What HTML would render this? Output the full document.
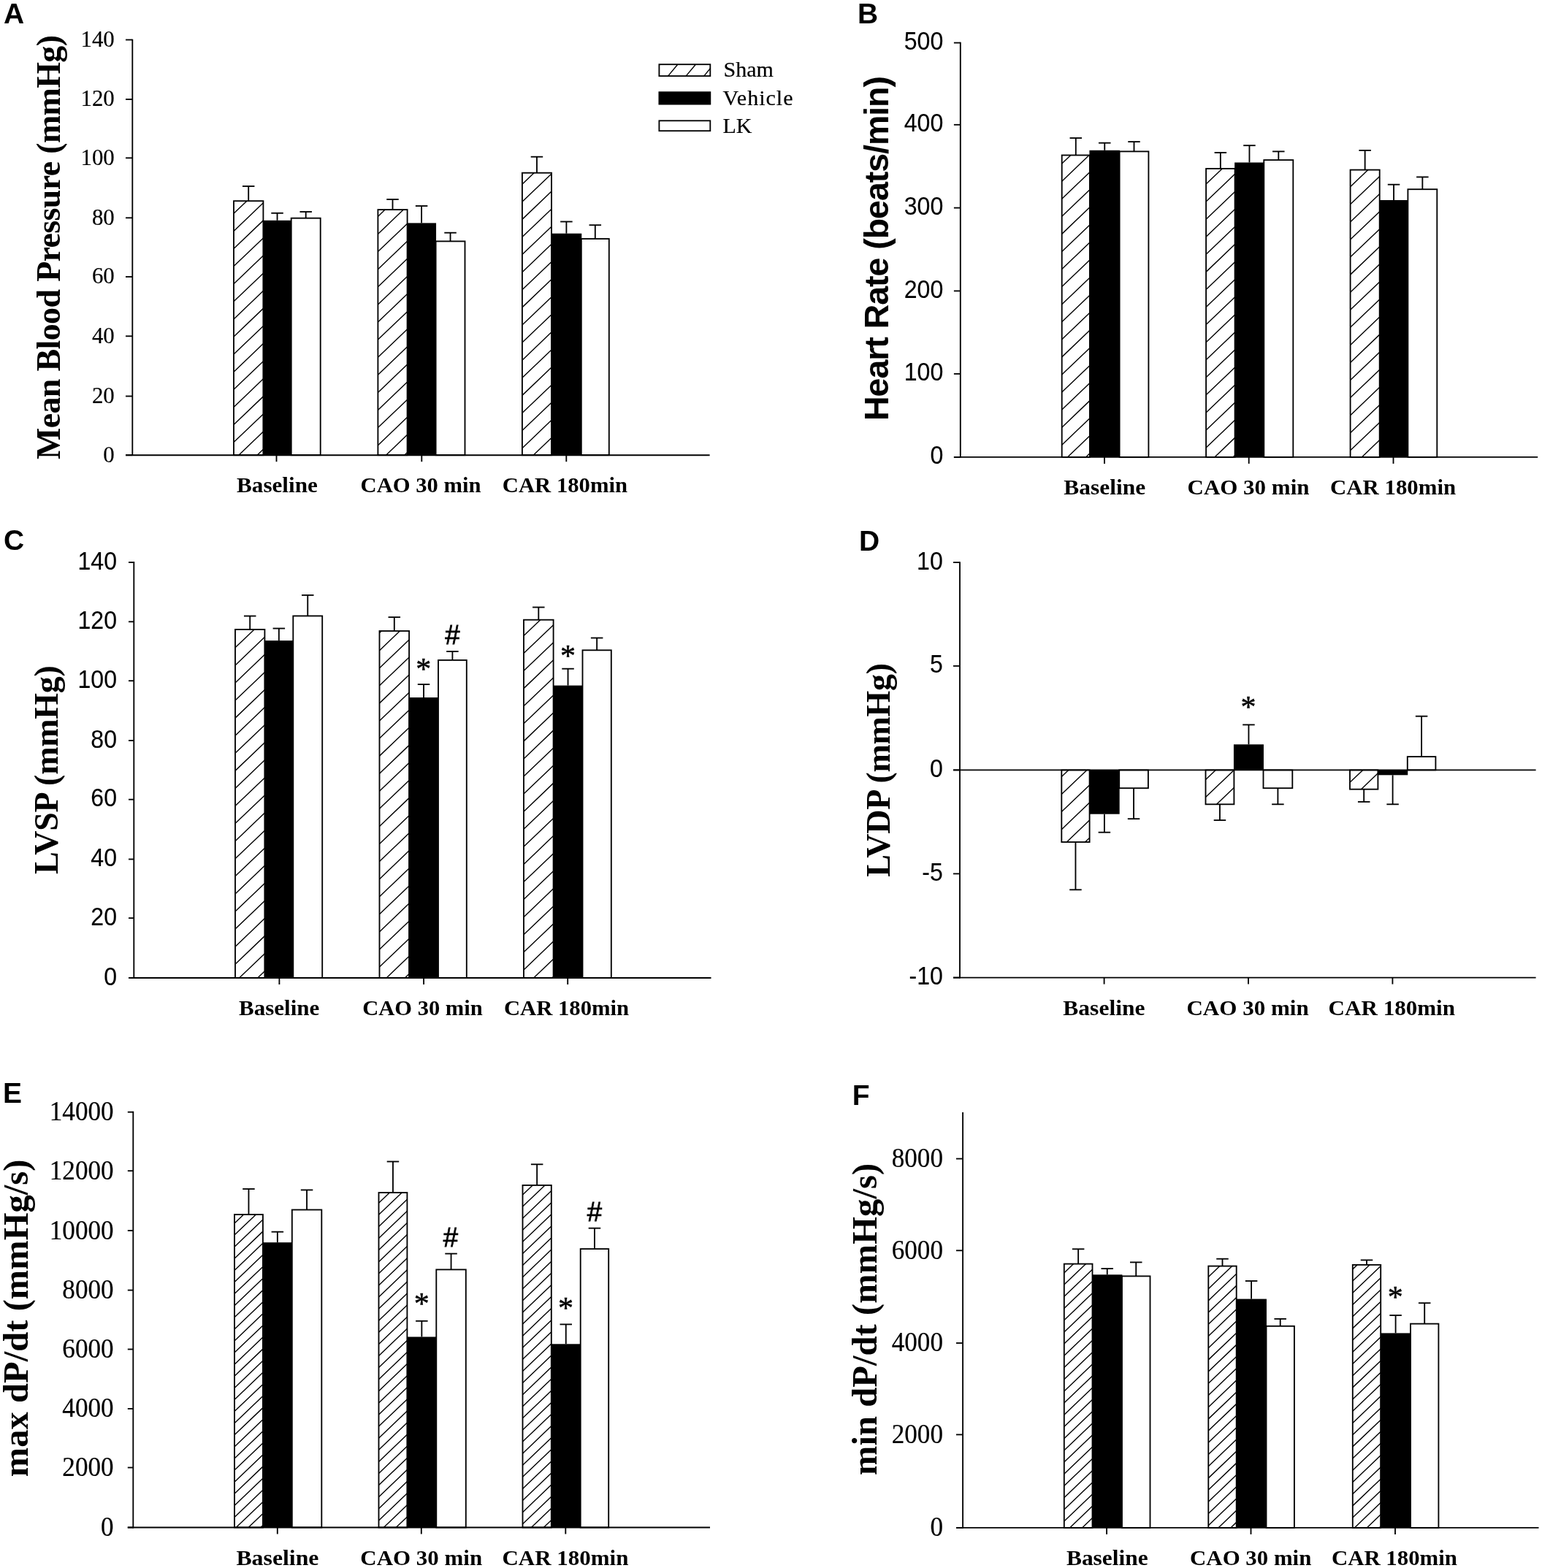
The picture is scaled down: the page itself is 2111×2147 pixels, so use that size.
<!DOCTYPE html>
<html lang="en"><head><meta charset="utf-8"><title>Hemodynamic parameters: Sham, Vehicle, LK</title>
<style>html,body{margin:0;padding:0;background:#fff}body{width:2111px;height:2147px;overflow:hidden}svg{display:block}text{fill:#000;stroke:none}</style>
</head><body>
<svg xmlns="http://www.w3.org/2000/svg" width="2111" height="2147" viewBox="0 0 2111 2147" stroke="#000" fill="none" stroke-linecap="butt">
<rect x="0" y="0" width="2111" height="2147" fill="#fff" stroke="none"/>
<g id="panel-A">
<text font-family='"Liberation Sans", "DejaVu Sans", sans-serif' font-size="39" font-weight="bold" x="5" y="32">A</text>
<rect x="320" y="275.2" width="40.4" height="348" fill="#fff" stroke-width="1.85"/>
<path d="M320 292.3L337.89 275.2M320 316.4L360.4 277.78M320 340.5L360.4 301.88M320 364.6L360.4 325.98M320 388.7L360.4 350.08M320 412.8L360.4 374.18M320 436.9L360.4 398.28M320 461L360.4 422.38M320 485.1L360.4 446.48M320 509.2L360.4 470.58M320 533.3L360.4 494.68M320 557.4L360.4 518.78M320 581.5L360.4 542.88M320 605.6L360.4 566.98M326.8 623.2L360.4 591.08M352.01 623.2L360.4 615.18" stroke-width="1.4" fill="none"/>
<line x1="340.2" y1="275.2" x2="340.2" y2="255" stroke-width="1.85"/>
<line x1="331.95" y1="255" x2="348.45" y2="255" stroke-width="1.85"/>
<rect x="359.94" y="301.8" width="39.23" height="321.4" fill="#000" stroke="none"/>
<line x1="379.55" y1="301.8" x2="379.55" y2="291.8" stroke-width="1.85"/>
<line x1="371.3" y1="291.8" x2="387.8" y2="291.8" stroke-width="1.85"/>
<rect x="398.7" y="298.7" width="40" height="324.5" fill="#fff" stroke-width="1.85"/>
<line x1="418.7" y1="298.7" x2="418.7" y2="290" stroke-width="1.85"/>
<line x1="410.45" y1="290" x2="426.95" y2="290" stroke-width="1.85"/>
<rect x="517.4" y="287.1" width="40.2" height="336.1" fill="#fff" stroke-width="1.85"/>
<path d="M517.4 296.39L527.11 287.1M517.4 320.49L552.32 287.1M517.4 344.59L557.6 306.15M517.4 368.69L557.6 330.25M517.4 392.79L557.6 354.35M517.4 416.89L557.6 378.45M517.4 440.99L557.6 402.55M517.4 465.09L557.6 426.65M517.4 489.19L557.6 450.75M517.4 513.29L557.6 474.85M517.4 537.39L557.6 498.95M517.4 561.49L557.6 523.05M517.4 585.59L557.6 547.15M517.4 609.69L557.6 571.25M528.47 623.2L557.6 595.35M553.68 623.2L557.6 619.45" stroke-width="1.4" fill="none"/>
<line x1="537.5" y1="287.1" x2="537.5" y2="273" stroke-width="1.85"/>
<line x1="529.25" y1="273" x2="545.75" y2="273" stroke-width="1.85"/>
<rect x="557.14" y="305.4" width="39.92" height="317.8" fill="#000" stroke="none"/>
<line x1="577.1" y1="305.4" x2="577.1" y2="282" stroke-width="1.85"/>
<line x1="568.85" y1="282" x2="585.35" y2="282" stroke-width="1.85"/>
<rect x="596.6" y="330.4" width="39.9" height="292.8" fill="#fff" stroke-width="1.85"/>
<line x1="616.55" y1="330.4" x2="616.55" y2="318.7" stroke-width="1.85"/>
<line x1="608.3" y1="318.7" x2="624.8" y2="318.7" stroke-width="1.85"/>
<rect x="714.9" y="236.7" width="40.1" height="386.5" fill="#fff" stroke-width="1.85"/>
<path d="M714.9 252.18L731.09 236.7M714.9 276.28L755 237.94M714.9 300.38L755 262.04M714.9 324.48L755 286.14M714.9 348.58L755 310.24M714.9 372.68L755 334.34M714.9 396.78L755 358.44M714.9 420.88L755 382.54M714.9 444.98L755 406.64M714.9 469.08L755 430.74M714.9 493.18L755 454.84M714.9 517.28L755 478.94M714.9 541.38L755 503.04M714.9 565.48L755 527.14M714.9 589.58L755 551.24M714.9 613.68L755 575.34M730.15 623.2L755 599.44" stroke-width="1.4" fill="none"/>
<line x1="734.95" y1="236.7" x2="734.95" y2="214.7" stroke-width="1.85"/>
<line x1="726.7" y1="214.7" x2="743.2" y2="214.7" stroke-width="1.85"/>
<rect x="754.54" y="319.7" width="41.72" height="303.5" fill="#000" stroke="none"/>
<line x1="775.4" y1="319.7" x2="775.4" y2="303.5" stroke-width="1.85"/>
<line x1="767.15" y1="303.5" x2="783.65" y2="303.5" stroke-width="1.85"/>
<rect x="795.8" y="327" width="38" height="296.2" fill="#fff" stroke-width="1.85"/>
<line x1="814.8" y1="327" x2="814.8" y2="308.2" stroke-width="1.85"/>
<line x1="806.55" y1="308.2" x2="823.05" y2="308.2" stroke-width="1.85"/>
<line x1="181.3" y1="53.68" x2="181.3" y2="624.12" stroke-width="1.85"/>
<line x1="172" y1="623.2" x2="971.6" y2="623.2" stroke-width="1.85"/>
<line x1="172" y1="623.2" x2="181.3" y2="623.2" stroke-width="1.85"/>
<text font-family='"Liberation Serif", "DejaVu Serif", serif' font-size="32.5" text-anchor="end" style="stroke:#000;stroke-width:0.2px" transform="translate(156.8 632.5) scale(0.95 1)">0</text>
<line x1="172" y1="542.5" x2="181.3" y2="542.5" stroke-width="1.85"/>
<text font-family='"Liberation Serif", "DejaVu Serif", serif' font-size="32.5" text-anchor="end" style="stroke:#000;stroke-width:0.2px" transform="translate(156.8 551.8) scale(0.95 1)">20</text>
<line x1="172" y1="460.3" x2="181.3" y2="460.3" stroke-width="1.85"/>
<text font-family='"Liberation Serif", "DejaVu Serif", serif' font-size="32.5" text-anchor="end" style="stroke:#000;stroke-width:0.2px" transform="translate(156.8 469.6) scale(0.95 1)">40</text>
<line x1="172" y1="379" x2="181.3" y2="379" stroke-width="1.85"/>
<text font-family='"Liberation Serif", "DejaVu Serif", serif' font-size="32.5" text-anchor="end" style="stroke:#000;stroke-width:0.2px" transform="translate(156.8 388.3) scale(0.95 1)">60</text>
<line x1="172" y1="298.3" x2="181.3" y2="298.3" stroke-width="1.85"/>
<text font-family='"Liberation Serif", "DejaVu Serif", serif' font-size="32.5" text-anchor="end" style="stroke:#000;stroke-width:0.2px" transform="translate(156.8 307.6) scale(0.95 1)">80</text>
<line x1="172" y1="216.3" x2="181.3" y2="216.3" stroke-width="1.85"/>
<text font-family='"Liberation Serif", "DejaVu Serif", serif' font-size="32.5" text-anchor="end" style="stroke:#000;stroke-width:0.2px" transform="translate(156.8 225.6) scale(0.95 1)">100</text>
<line x1="172" y1="136" x2="181.3" y2="136" stroke-width="1.85"/>
<text font-family='"Liberation Serif", "DejaVu Serif", serif' font-size="32.5" text-anchor="end" style="stroke:#000;stroke-width:0.2px" transform="translate(156.8 145.3) scale(0.95 1)">120</text>
<line x1="172" y1="54.5" x2="181.3" y2="54.5" stroke-width="1.85"/>
<text font-family='"Liberation Serif", "DejaVu Serif", serif' font-size="32.5" text-anchor="end" style="stroke:#000;stroke-width:0.2px" transform="translate(156.8 63.8) scale(0.95 1)">140</text>
<line x1="378.5" y1="623.2" x2="378.5" y2="632.2" stroke-width="1.85"/>
<text font-family='"Liberation Serif", "DejaVu Serif", serif' font-size="29.5" font-weight="bold" text-anchor="middle" textLength="110.7" lengthAdjust="spacingAndGlyphs" x="379.45" y="674">Baseline</text>
<line x1="577.3" y1="623.2" x2="577.3" y2="632.2" stroke-width="1.85"/>
<text font-family='"Liberation Serif", "DejaVu Serif", serif' font-size="29.5" font-weight="bold" text-anchor="middle" textLength="164.9" lengthAdjust="spacingAndGlyphs" x="576.05" y="674">CAO 30 min</text>
<line x1="775.3" y1="623.2" x2="775.3" y2="632.2" stroke-width="1.85"/>
<text font-family='"Liberation Serif", "DejaVu Serif", serif' font-size="29.5" font-weight="bold" text-anchor="middle" textLength="171.2" lengthAdjust="spacingAndGlyphs" x="773.4" y="674">CAR 180min</text>
<text font-family='"Liberation Serif", "DejaVu Serif", serif' font-size="46" font-weight="bold" textLength="581" lengthAdjust="spacing" transform="translate(82 629) rotate(-90)">Mean Blood Pressure (mmHg)</text>
</g>
<g id="panel-B">
<text font-family='"Liberation Sans", "DejaVu Sans", sans-serif' font-size="39" font-weight="bold" x="1174" y="32">B</text>
<rect x="1453.7" y="212.5" width="38.2" height="413.4" fill="#fff" stroke-width="1.85"/>
<path d="M1453.7 224.1L1465.84 212.5M1453.7 248.17L1491.01 212.5M1453.7 272.24L1491.9 235.72M1453.7 296.31L1491.9 259.79M1453.7 320.38L1491.9 283.86M1453.7 344.45L1491.9 307.93M1453.7 368.52L1491.9 332M1453.7 392.59L1491.9 356.07M1453.7 416.66L1491.9 380.14M1453.7 440.73L1491.9 404.21M1453.7 464.8L1491.9 428.28M1453.7 488.87L1491.9 452.35M1453.7 512.94L1491.9 476.42M1453.7 537.01L1491.9 500.49M1453.7 561.08L1491.9 524.56M1453.7 585.15L1491.9 548.63M1453.7 609.22L1491.9 572.7M1461.43 625.9L1491.9 596.77M1486.61 625.9L1491.9 620.84" stroke-width="1.4" fill="none"/>
<line x1="1472.8" y1="212.5" x2="1472.8" y2="189" stroke-width="1.85"/>
<line x1="1464.55" y1="189" x2="1481.05" y2="189" stroke-width="1.85"/>
<rect x="1491.44" y="205.8" width="41.62" height="420.1" fill="#000" stroke="none"/>
<line x1="1512.25" y1="205.8" x2="1512.25" y2="195.7" stroke-width="1.85"/>
<line x1="1504" y1="195.7" x2="1520.5" y2="195.7" stroke-width="1.85"/>
<rect x="1532.6" y="207.4" width="39.8" height="418.5" fill="#fff" stroke-width="1.85"/>
<line x1="1552.5" y1="207.4" x2="1552.5" y2="194.1" stroke-width="1.85"/>
<line x1="1544.25" y1="194.1" x2="1560.75" y2="194.1" stroke-width="1.85"/>
<rect x="1651.1" y="230.9" width="39.5" height="395" fill="#fff" stroke-width="1.85"/>
<path d="M1651.1 252.02L1673.19 230.9M1651.1 276.09L1690.6 238.33M1651.1 300.16L1690.6 262.4M1651.1 324.23L1690.6 286.47M1651.1 348.3L1690.6 310.54M1651.1 372.37L1690.6 334.61M1651.1 396.44L1690.6 358.68M1651.1 420.51L1690.6 382.75M1651.1 444.58L1690.6 406.82M1651.1 468.65L1690.6 430.89M1651.1 492.72L1690.6 454.96M1651.1 516.79L1690.6 479.03M1651.1 540.86L1690.6 503.1M1651.1 564.93L1690.6 527.17M1651.1 589L1690.6 551.24M1651.1 613.07L1690.6 575.31M1662.86 625.9L1690.6 599.38M1688.03 625.9L1690.6 623.45" stroke-width="1.4" fill="none"/>
<line x1="1670.85" y1="230.9" x2="1670.85" y2="209" stroke-width="1.85"/>
<line x1="1662.6" y1="209" x2="1679.1" y2="209" stroke-width="1.85"/>
<rect x="1690.14" y="222.5" width="40.63" height="403.4" fill="#000" stroke="none"/>
<line x1="1710.45" y1="222.5" x2="1710.45" y2="199.2" stroke-width="1.85"/>
<line x1="1702.2" y1="199.2" x2="1718.7" y2="199.2" stroke-width="1.85"/>
<rect x="1730.3" y="219.1" width="40" height="406.8" fill="#fff" stroke-width="1.85"/>
<line x1="1750.3" y1="219.1" x2="1750.3" y2="207.4" stroke-width="1.85"/>
<line x1="1742.05" y1="207.4" x2="1758.55" y2="207.4" stroke-width="1.85"/>
<rect x="1848.6" y="232.6" width="40.1" height="393.3" fill="#fff" stroke-width="1.85"/>
<path d="M1848.6 255.77L1872.83 232.6M1848.6 279.84L1888.7 241.5M1848.6 303.91L1888.7 265.57M1848.6 327.98L1888.7 289.64M1848.6 352.05L1888.7 313.71M1848.6 376.12L1888.7 337.78M1848.6 400.19L1888.7 361.85M1848.6 424.26L1888.7 385.92M1848.6 448.33L1888.7 409.99M1848.6 472.4L1888.7 434.06M1848.6 496.47L1888.7 458.13M1848.6 520.54L1888.7 482.2M1848.6 544.61L1888.7 506.27M1848.6 568.68L1888.7 530.34M1848.6 592.75L1888.7 554.41M1848.6 616.82L1888.7 578.48M1864.28 625.9L1888.7 602.55" stroke-width="1.4" fill="none"/>
<line x1="1868.65" y1="232.6" x2="1868.65" y2="205.9" stroke-width="1.85"/>
<line x1="1860.4" y1="205.9" x2="1876.9" y2="205.9" stroke-width="1.85"/>
<rect x="1888.24" y="274" width="39.63" height="351.9" fill="#000" stroke="none"/>
<line x1="1908.05" y1="274" x2="1908.05" y2="252.7" stroke-width="1.85"/>
<line x1="1899.8" y1="252.7" x2="1916.3" y2="252.7" stroke-width="1.85"/>
<rect x="1927.4" y="259.2" width="39.9" height="366.7" fill="#fff" stroke-width="1.85"/>
<line x1="1947.35" y1="259.2" x2="1947.35" y2="242.4" stroke-width="1.85"/>
<line x1="1939.1" y1="242.4" x2="1955.6" y2="242.4" stroke-width="1.85"/>
<line x1="1314.8" y1="57.68" x2="1314.8" y2="626.82" stroke-width="1.85"/>
<line x1="1305.9" y1="625.9" x2="2105.2" y2="625.9" stroke-width="1.85"/>
<line x1="1305.9" y1="625.9" x2="1314.8" y2="625.9" stroke-width="1.85"/>
<text font-family='"Liberation Sans", "DejaVu Sans", sans-serif' font-size="34.5" text-anchor="end" style="stroke:#000;stroke-width:0.12px" transform="translate(1291.3 635.4) scale(0.93 1)">0</text>
<line x1="1305.9" y1="511.9" x2="1314.8" y2="511.9" stroke-width="1.85"/>
<text font-family='"Liberation Sans", "DejaVu Sans", sans-serif' font-size="34.5" text-anchor="end" style="stroke:#000;stroke-width:0.12px" transform="translate(1291.3 521.4) scale(0.93 1)">100</text>
<line x1="1305.9" y1="398.4" x2="1314.8" y2="398.4" stroke-width="1.85"/>
<text font-family='"Liberation Sans", "DejaVu Sans", sans-serif' font-size="34.5" text-anchor="end" style="stroke:#000;stroke-width:0.12px" transform="translate(1291.3 407.9) scale(0.93 1)">200</text>
<line x1="1305.9" y1="284.6" x2="1314.8" y2="284.6" stroke-width="1.85"/>
<text font-family='"Liberation Sans", "DejaVu Sans", sans-serif' font-size="34.5" text-anchor="end" style="stroke:#000;stroke-width:0.12px" transform="translate(1291.3 294.1) scale(0.93 1)">300</text>
<line x1="1305.9" y1="170.8" x2="1314.8" y2="170.8" stroke-width="1.85"/>
<text font-family='"Liberation Sans", "DejaVu Sans", sans-serif' font-size="34.5" text-anchor="end" style="stroke:#000;stroke-width:0.12px" transform="translate(1291.3 180.3) scale(0.93 1)">400</text>
<line x1="1305.9" y1="58.6" x2="1314.8" y2="58.6" stroke-width="1.85"/>
<text font-family='"Liberation Sans", "DejaVu Sans", sans-serif' font-size="34.5" text-anchor="end" style="stroke:#000;stroke-width:0.12px" transform="translate(1291.3 68.1) scale(0.93 1)">500</text>
<line x1="1512" y1="625.9" x2="1512" y2="634.9" stroke-width="1.85"/>
<text font-family='"Liberation Serif", "DejaVu Serif", serif' font-size="29.5" font-weight="bold" text-anchor="middle" textLength="111.9" lengthAdjust="spacingAndGlyphs" x="1512.25" y="677.3">Baseline</text>
<line x1="1709.7" y1="625.9" x2="1709.7" y2="634.9" stroke-width="1.85"/>
<text font-family='"Liberation Serif", "DejaVu Serif", serif' font-size="29.5" font-weight="bold" text-anchor="middle" textLength="167" lengthAdjust="spacingAndGlyphs" x="1709" y="677.3">CAO 30 min</text>
<line x1="1907.5" y1="625.9" x2="1907.5" y2="634.9" stroke-width="1.85"/>
<text font-family='"Liberation Serif", "DejaVu Serif", serif' font-size="29.5" font-weight="bold" text-anchor="middle" textLength="172" lengthAdjust="spacingAndGlyphs" x="1907.1" y="677.3">CAR 180min</text>
<text font-family='"Liberation Sans", "DejaVu Sans", sans-serif' font-size="46.5" font-weight="bold" textLength="472" lengthAdjust="spacing" transform="translate(1216.2 576) rotate(-90)">Heart Rate (beats/min)</text>
</g>
<g id="panel-C">
<text font-family='"Liberation Sans", "DejaVu Sans", sans-serif' font-size="39" font-weight="bold" x="5" y="752.5">C</text>
<rect x="322" y="861.9" width="40.4" height="477.1" fill="#fff" stroke-width="1.85"/>
<path d="M322 862.73L322.87 861.9M322 886.81L348.05 861.9M322 910.89L362.4 872.27M322 934.97L362.4 896.35M322 959.05L362.4 920.43M322 983.13L362.4 944.51M322 1007.21L362.4 968.59M322 1031.29L362.4 992.67M322 1055.37L362.4 1016.75M322 1079.45L362.4 1040.83M322 1103.53L362.4 1064.91M322 1127.61L362.4 1088.99M322 1151.69L362.4 1113.07M322 1175.77L362.4 1137.15M322 1199.85L362.4 1161.23M322 1223.93L362.4 1185.31M322 1248.01L362.4 1209.39M322 1272.09L362.4 1233.47M322 1296.17L362.4 1257.55M322 1320.25L362.4 1281.63M327.57 1339L362.4 1305.71M352.76 1339L362.4 1329.79" stroke-width="1.4" fill="none"/>
<line x1="342.2" y1="861.9" x2="342.2" y2="843.5" stroke-width="1.85"/>
<line x1="333.95" y1="843.5" x2="350.45" y2="843.5" stroke-width="1.85"/>
<rect x="361.94" y="877.1" width="39.83" height="461.9" fill="#000" stroke="none"/>
<line x1="381.85" y1="877.1" x2="381.85" y2="860.5" stroke-width="1.85"/>
<line x1="373.6" y1="860.5" x2="390.1" y2="860.5" stroke-width="1.85"/>
<rect x="401.3" y="843.4" width="39.9" height="495.6" fill="#fff" stroke-width="1.85"/>
<line x1="421.25" y1="843.4" x2="421.25" y2="814.9" stroke-width="1.85"/>
<line x1="413" y1="814.9" x2="429.5" y2="814.9" stroke-width="1.85"/>
<rect x="519.5" y="864" width="40.6" height="475" fill="#fff" stroke-width="1.85"/>
<path d="M519.5 866.56L522.18 864M519.5 890.64L547.36 864M519.5 914.72L560.1 875.9M519.5 938.8L560.1 899.98M519.5 962.88L560.1 924.06M519.5 986.96L560.1 948.14M519.5 1011.04L560.1 972.22M519.5 1035.12L560.1 996.3M519.5 1059.2L560.1 1020.38M519.5 1083.28L560.1 1044.46M519.5 1107.36L560.1 1068.54M519.5 1131.44L560.1 1092.62M519.5 1155.52L560.1 1116.7M519.5 1179.6L560.1 1140.78M519.5 1203.68L560.1 1164.86M519.5 1227.76L560.1 1188.94M519.5 1251.84L560.1 1213.02M519.5 1275.92L560.1 1237.1M519.5 1300L560.1 1261.18M519.5 1324.08L560.1 1285.26M529.08 1339L560.1 1309.34M554.27 1339L560.1 1333.42" stroke-width="1.4" fill="none"/>
<line x1="539.8" y1="864" x2="539.8" y2="845.1" stroke-width="1.85"/>
<line x1="531.55" y1="845.1" x2="548.05" y2="845.1" stroke-width="1.85"/>
<rect x="559.64" y="955" width="40.82" height="384" fill="#000" stroke="none"/>
<line x1="580.05" y1="955" x2="580.05" y2="937.1" stroke-width="1.85"/>
<line x1="571.8" y1="937.1" x2="588.3" y2="937.1" stroke-width="1.85"/>
<rect x="600" y="903.9" width="38.8" height="435.1" fill="#fff" stroke-width="1.85"/>
<line x1="619.4" y1="903.9" x2="619.4" y2="892" stroke-width="1.85"/>
<line x1="611.15" y1="892" x2="627.65" y2="892" stroke-width="1.85"/>
<rect x="717" y="848.7" width="40.6" height="490.3" fill="#fff" stroke-width="1.85"/>
<path d="M717 870.39L739.69 848.7M717 894.47L757.6 855.65M717 918.55L757.6 879.73M717 942.63L757.6 903.81M717 966.71L757.6 927.89M717 990.79L757.6 951.97M717 1014.87L757.6 976.05M717 1038.95L757.6 1000.13M717 1063.03L757.6 1024.21M717 1087.11L757.6 1048.29M717 1111.19L757.6 1072.37M717 1135.27L757.6 1096.45M717 1159.35L757.6 1120.53M717 1183.43L757.6 1144.61M717 1207.51L757.6 1168.69M717 1231.59L757.6 1192.77M717 1255.67L757.6 1216.85M717 1279.75L757.6 1240.93M717 1303.83L757.6 1265.01M717 1327.91L757.6 1289.09M730.59 1339L757.6 1313.17M755.77 1339L757.6 1337.25" stroke-width="1.4" fill="none"/>
<line x1="737.3" y1="848.7" x2="737.3" y2="831.5" stroke-width="1.85"/>
<line x1="729.05" y1="831.5" x2="745.55" y2="831.5" stroke-width="1.85"/>
<rect x="757.14" y="938.6" width="40.82" height="400.4" fill="#000" stroke="none"/>
<line x1="777.55" y1="938.6" x2="777.55" y2="915.7" stroke-width="1.85"/>
<line x1="769.3" y1="915.7" x2="785.8" y2="915.7" stroke-width="1.85"/>
<rect x="797.5" y="890.3" width="39.3" height="448.7" fill="#fff" stroke-width="1.85"/>
<line x1="817.15" y1="890.3" x2="817.15" y2="873.5" stroke-width="1.85"/>
<line x1="808.9" y1="873.5" x2="825.4" y2="873.5" stroke-width="1.85"/>
<line x1="183.3" y1="769.08" x2="183.3" y2="1339.92" stroke-width="1.85"/>
<line x1="176" y1="1339" x2="973.5" y2="1339" stroke-width="1.85"/>
<line x1="176" y1="1339" x2="183.3" y2="1339" stroke-width="1.85"/>
<text font-family='"Liberation Sans", "DejaVu Sans", sans-serif' font-size="34.5" text-anchor="end" style="stroke:#000;stroke-width:0.12px" transform="translate(160 1348.5) scale(0.93 1)">0</text>
<line x1="176" y1="1257.1" x2="183.3" y2="1257.1" stroke-width="1.85"/>
<text font-family='"Liberation Sans", "DejaVu Sans", sans-serif' font-size="34.5" text-anchor="end" style="stroke:#000;stroke-width:0.12px" transform="translate(160 1266.6) scale(0.93 1)">20</text>
<line x1="176" y1="1176.5" x2="183.3" y2="1176.5" stroke-width="1.85"/>
<text font-family='"Liberation Sans", "DejaVu Sans", sans-serif' font-size="34.5" text-anchor="end" style="stroke:#000;stroke-width:0.12px" transform="translate(160 1186) scale(0.93 1)">40</text>
<line x1="176" y1="1094.7" x2="183.3" y2="1094.7" stroke-width="1.85"/>
<text font-family='"Liberation Sans", "DejaVu Sans", sans-serif' font-size="34.5" text-anchor="end" style="stroke:#000;stroke-width:0.12px" transform="translate(160 1104.2) scale(0.93 1)">60</text>
<line x1="176" y1="1014" x2="183.3" y2="1014" stroke-width="1.85"/>
<text font-family='"Liberation Sans", "DejaVu Sans", sans-serif' font-size="34.5" text-anchor="end" style="stroke:#000;stroke-width:0.12px" transform="translate(160 1023.5) scale(0.93 1)">80</text>
<line x1="176" y1="932.2" x2="183.3" y2="932.2" stroke-width="1.85"/>
<text font-family='"Liberation Sans", "DejaVu Sans", sans-serif' font-size="34.5" text-anchor="end" style="stroke:#000;stroke-width:0.12px" transform="translate(160 941.7) scale(0.93 1)">100</text>
<line x1="176" y1="851.3" x2="183.3" y2="851.3" stroke-width="1.85"/>
<text font-family='"Liberation Sans", "DejaVu Sans", sans-serif' font-size="34.5" text-anchor="end" style="stroke:#000;stroke-width:0.12px" transform="translate(160 860.8) scale(0.93 1)">120</text>
<line x1="176" y1="770" x2="183.3" y2="770" stroke-width="1.85"/>
<text font-family='"Liberation Sans", "DejaVu Sans", sans-serif' font-size="34.5" text-anchor="end" style="stroke:#000;stroke-width:0.12px" transform="translate(160 779.5) scale(0.93 1)">140</text>
<line x1="382.4" y1="1339" x2="382.4" y2="1348" stroke-width="1.85"/>
<text font-family='"Liberation Serif", "DejaVu Serif", serif' font-size="29.5" font-weight="bold" text-anchor="middle" textLength="110.2" lengthAdjust="spacingAndGlyphs" x="382.2" y="1389.5">Baseline</text>
<line x1="580.1" y1="1339" x2="580.1" y2="1348" stroke-width="1.85"/>
<text font-family='"Liberation Serif", "DejaVu Serif", serif' font-size="29.5" font-weight="bold" text-anchor="middle" textLength="164.6" lengthAdjust="spacingAndGlyphs" x="578.5" y="1389.5">CAO 30 min</text>
<line x1="777.2" y1="1339" x2="777.2" y2="1348" stroke-width="1.85"/>
<text font-family='"Liberation Serif", "DejaVu Serif", serif' font-size="29.5" font-weight="bold" text-anchor="middle" textLength="171.3" lengthAdjust="spacingAndGlyphs" x="775.55" y="1389.5">CAR 180min</text>
<text font-family='"Liberation Serif", "DejaVu Serif", serif' font-size="46" font-weight="bold" textLength="285.9" lengthAdjust="spacing" transform="translate(79.4 1197) rotate(-90)">LVSP (mmHg)</text>
<text font-family='"Liberation Serif", "DejaVu Serif", serif' font-size="42" text-anchor="middle" style="stroke:#000;stroke-width:0.5px" x="579.8" y="930.2">*</text>
<text font-family='"Liberation Sans", "DejaVu Sans", sans-serif' font-size="36.5" text-anchor="middle" style="stroke:#000;stroke-width:0.8px" x="619.3" y="881.9">#</text>
<text font-family='"Liberation Serif", "DejaVu Serif", serif' font-size="42" text-anchor="middle" style="stroke:#000;stroke-width:0.5px" x="777.5" y="911.8">*</text>
</g>
<g id="panel-D">
<text font-family='"Liberation Sans", "DejaVu Sans", sans-serif' font-size="39" font-weight="bold" x="1176" y="753.6">D</text>
<rect x="1453.3" y="1054.4" width="38.3" height="98.6" fill="#fff" stroke-width="1.85"/>
<path d="M1453.3 1063.41L1462.72 1054.4M1453.3 1087.49L1487.91 1054.4M1453.3 1111.57L1491.6 1074.95M1453.3 1135.65L1491.6 1099.03M1460.33 1153L1491.6 1123.11M1485.52 1153L1491.6 1147.19" stroke-width="1.4" fill="none"/>
<line x1="1472.45" y1="1153" x2="1472.45" y2="1218.3" stroke-width="1.85"/>
<line x1="1464.2" y1="1218.3" x2="1480.7" y2="1218.3" stroke-width="1.85"/>
<rect x="1491.14" y="1054.4" width="41.53" height="60.3" fill="#000" stroke="none"/>
<line x1="1511.9" y1="1114.7" x2="1511.9" y2="1139.7" stroke-width="1.85"/>
<line x1="1503.65" y1="1139.7" x2="1520.15" y2="1139.7" stroke-width="1.85"/>
<rect x="1532.2" y="1054.4" width="39.7" height="24.8" fill="#fff" stroke-width="1.85"/>
<line x1="1552.05" y1="1079.2" x2="1552.05" y2="1121.2" stroke-width="1.85"/>
<line x1="1543.8" y1="1121.2" x2="1560.3" y2="1121.2" stroke-width="1.85"/>
<rect x="1650.5" y="1054.4" width="38.9" height="46.9" fill="#fff" stroke-width="1.85"/>
<path d="M1650.5 1067.52L1664.23 1054.4M1650.5 1091.6L1689.4 1054.41M1665.54 1101.3L1689.4 1078.49" stroke-width="1.4" fill="none"/>
<line x1="1669.95" y1="1101.3" x2="1669.95" y2="1123.1" stroke-width="1.85"/>
<line x1="1661.7" y1="1123.1" x2="1678.2" y2="1123.1" stroke-width="1.85"/>
<rect x="1688.94" y="1019.3" width="41.02" height="35.1" fill="#000" stroke="none"/>
<line x1="1709.45" y1="1019.3" x2="1709.45" y2="992.4" stroke-width="1.85"/>
<line x1="1701.2" y1="992.4" x2="1717.7" y2="992.4" stroke-width="1.85"/>
<rect x="1729.5" y="1054.4" width="39.8" height="24.8" fill="#fff" stroke-width="1.85"/>
<line x1="1749.4" y1="1079.2" x2="1749.4" y2="1101.3" stroke-width="1.85"/>
<line x1="1741.15" y1="1101.3" x2="1757.65" y2="1101.3" stroke-width="1.85"/>
<rect x="1848" y="1054.4" width="38.4" height="26.3" fill="#fff" stroke-width="1.85"/>
<path d="M1848 1071.35L1865.73 1054.4M1863.41 1080.7L1886.4 1058.72" stroke-width="1.4" fill="none"/>
<line x1="1867.2" y1="1080.7" x2="1867.2" y2="1097.9" stroke-width="1.85"/>
<line x1="1858.95" y1="1097.9" x2="1875.45" y2="1097.9" stroke-width="1.85"/>
<rect x="1885.94" y="1054.4" width="41.32" height="6.9" fill="#000" stroke="none"/>
<line x1="1906.6" y1="1061.3" x2="1906.6" y2="1101.3" stroke-width="1.85"/>
<line x1="1898.35" y1="1101.3" x2="1914.85" y2="1101.3" stroke-width="1.85"/>
<rect x="1926.8" y="1036.1" width="38.6" height="18.3" fill="#fff" stroke-width="1.85"/>
<line x1="1946.1" y1="1036.1" x2="1946.1" y2="980.7" stroke-width="1.85"/>
<line x1="1937.85" y1="980.7" x2="1954.35" y2="980.7" stroke-width="1.85"/>
<line x1="1314" y1="769.18" x2="1314" y2="1339.52" stroke-width="1.85"/>
<line x1="1305" y1="1338.6" x2="2102.6" y2="1338.6" stroke-width="1.85"/>
<line x1="1305" y1="1054.4" x2="2102.6" y2="1054.4" stroke-width="1.85"/>
<line x1="1305" y1="1338.6" x2="1314" y2="1338.6" stroke-width="1.85"/>
<text font-family='"Liberation Sans", "DejaVu Sans", sans-serif' font-size="34.5" text-anchor="end" style="stroke:#000;stroke-width:0.12px" transform="translate(1290.8 1348.1) scale(0.93 1)">-10</text>
<line x1="1305" y1="1196.4" x2="1314" y2="1196.4" stroke-width="1.85"/>
<text font-family='"Liberation Sans", "DejaVu Sans", sans-serif' font-size="34.5" text-anchor="end" style="stroke:#000;stroke-width:0.12px" transform="translate(1290.8 1205.9) scale(0.93 1)">-5</text>
<line x1="1305" y1="1054.4" x2="1314" y2="1054.4" stroke-width="1.85"/>
<text font-family='"Liberation Sans", "DejaVu Sans", sans-serif' font-size="34.5" text-anchor="end" style="stroke:#000;stroke-width:0.12px" transform="translate(1290.8 1063.9) scale(0.93 1)">0</text>
<line x1="1305" y1="911.9" x2="1314" y2="911.9" stroke-width="1.85"/>
<text font-family='"Liberation Sans", "DejaVu Sans", sans-serif' font-size="34.5" text-anchor="end" style="stroke:#000;stroke-width:0.12px" transform="translate(1290.8 921.4) scale(0.93 1)">5</text>
<line x1="1305" y1="770.1" x2="1314" y2="770.1" stroke-width="1.85"/>
<text font-family='"Liberation Sans", "DejaVu Sans", sans-serif' font-size="34.5" text-anchor="end" style="stroke:#000;stroke-width:0.12px" transform="translate(1290.8 779.6) scale(0.93 1)">10</text>
<line x1="1511.6" y1="1338.6" x2="1511.6" y2="1347.6" stroke-width="1.85"/>
<text font-family='"Liberation Serif", "DejaVu Serif", serif' font-size="29.5" font-weight="bold" text-anchor="middle" textLength="112.2" lengthAdjust="spacingAndGlyphs" x="1511.4" y="1390.2">Baseline</text>
<line x1="1709" y1="1338.6" x2="1709" y2="1347.6" stroke-width="1.85"/>
<text font-family='"Liberation Serif", "DejaVu Serif", serif' font-size="29.5" font-weight="bold" text-anchor="middle" textLength="167.3" lengthAdjust="spacingAndGlyphs" x="1708.05" y="1390.2">CAO 30 min</text>
<line x1="1906.4" y1="1338.6" x2="1906.4" y2="1347.6" stroke-width="1.85"/>
<text font-family='"Liberation Serif", "DejaVu Serif", serif' font-size="29.5" font-weight="bold" text-anchor="middle" textLength="173.4" lengthAdjust="spacingAndGlyphs" x="1905.3" y="1390.2">CAR 180min</text>
<text font-family='"Liberation Serif", "DejaVu Serif", serif' font-size="46" font-weight="bold" textLength="292.8" lengthAdjust="spacing" transform="translate(1218.3 1200.8) rotate(-90)">LVDP (mmHg)</text>
<text font-family='"Liberation Serif", "DejaVu Serif", serif' font-size="42" text-anchor="middle" style="stroke:#000;stroke-width:0.5px" x="1708.9" y="982">*</text>
</g>
<g id="panel-E">
<text font-family='"Liberation Sans", "DejaVu Sans", sans-serif' font-size="39" font-weight="bold" x="4" y="1509.9">E</text>
<rect x="321" y="1663" width="38.9" height="428.5" fill="#fff" stroke-width="1.85"/>
<path d="M321 1675L333.56 1663M321 1691.1L350.4 1663M321 1707.2L359.9 1670.02M321 1723.3L359.9 1686.12M321 1739.4L359.9 1702.22M321 1755.5L359.9 1718.32M321 1771.6L359.9 1734.42M321 1787.7L359.9 1750.52M321 1803.8L359.9 1766.62M321 1819.9L359.9 1782.72M321 1836L359.9 1798.82M321 1852.1L359.9 1814.92M321 1868.2L359.9 1831.02M321 1884.3L359.9 1847.12M321 1900.4L359.9 1863.22M321 1916.5L359.9 1879.32M321 1932.6L359.9 1895.42M321 1948.7L359.9 1911.52M321 1964.8L359.9 1927.62M321 1980.9L359.9 1943.72M321 1997L359.9 1959.82M321 2013.1L359.9 1975.92M321 2029.2L359.9 1992.02M321 2045.3L359.9 2008.12M321 2061.4L359.9 2024.22M321 2077.5L359.9 2040.32M323.2 2091.5L359.9 2056.42M340.04 2091.5L359.9 2072.52M356.88 2091.5L359.9 2088.62" stroke-width="1.4" fill="none"/>
<line x1="340.45" y1="1663" x2="340.45" y2="1628" stroke-width="1.85"/>
<line x1="332.2" y1="1628" x2="348.7" y2="1628" stroke-width="1.85"/>
<rect x="359.44" y="1701.2" width="40.83" height="390.3" fill="#000" stroke="none"/>
<line x1="379.85" y1="1701.2" x2="379.85" y2="1686.7" stroke-width="1.85"/>
<line x1="371.6" y1="1686.7" x2="388.1" y2="1686.7" stroke-width="1.85"/>
<rect x="399.8" y="1656.5" width="40.5" height="435" fill="#fff" stroke-width="1.85"/>
<line x1="420.05" y1="1656.5" x2="420.05" y2="1629.4" stroke-width="1.85"/>
<line x1="411.8" y1="1629.4" x2="428.3" y2="1629.4" stroke-width="1.85"/>
<rect x="518.5" y="1633" width="38.9" height="458.5" fill="#fff" stroke-width="1.85"/>
<path d="M518.5 1647.19L533.35 1633M518.5 1663.29L550.19 1633M518.5 1679.39L557.4 1642.21M518.5 1695.49L557.4 1658.31M518.5 1711.59L557.4 1674.41M518.5 1727.69L557.4 1690.51M518.5 1743.79L557.4 1706.61M518.5 1759.89L557.4 1722.71M518.5 1775.99L557.4 1738.81M518.5 1792.09L557.4 1754.91M518.5 1808.19L557.4 1771.01M518.5 1824.29L557.4 1787.11M518.5 1840.39L557.4 1803.21M518.5 1856.49L557.4 1819.31M518.5 1872.59L557.4 1835.41M518.5 1888.69L557.4 1851.51M518.5 1904.79L557.4 1867.61M518.5 1920.89L557.4 1883.71M518.5 1936.99L557.4 1899.81M518.5 1953.09L557.4 1915.91M518.5 1969.19L557.4 1932.01M518.5 1985.29L557.4 1948.11M518.5 2001.39L557.4 1964.21M518.5 2017.49L557.4 1980.31M518.5 2033.59L557.4 1996.41M518.5 2049.69L557.4 2012.51M518.5 2065.79L557.4 2028.61M518.5 2081.89L557.4 2044.71M525.29 2091.5L557.4 2060.81M542.13 2091.5L557.4 2076.91" stroke-width="1.4" fill="none"/>
<line x1="537.95" y1="1633" x2="537.95" y2="1590.5" stroke-width="1.85"/>
<line x1="529.7" y1="1590.5" x2="546.2" y2="1590.5" stroke-width="1.85"/>
<rect x="556.94" y="1830.5" width="40.82" height="261" fill="#000" stroke="none"/>
<line x1="577.35" y1="1830.5" x2="577.35" y2="1808.8" stroke-width="1.85"/>
<line x1="569.1" y1="1808.8" x2="585.6" y2="1808.8" stroke-width="1.85"/>
<rect x="597.3" y="1738.4" width="40.5" height="353.1" fill="#fff" stroke-width="1.85"/>
<line x1="617.55" y1="1738.4" x2="617.55" y2="1716.6" stroke-width="1.85"/>
<line x1="609.3" y1="1716.6" x2="625.8" y2="1716.6" stroke-width="1.85"/>
<rect x="715.5" y="1622.9" width="39.3" height="468.6" fill="#fff" stroke-width="1.85"/>
<path d="M715.5 1635.96L729.16 1622.9M715.5 1652.06L746 1622.9M715.5 1668.16L754.8 1630.59M715.5 1684.26L754.8 1646.69M715.5 1700.36L754.8 1662.79M715.5 1716.46L754.8 1678.89M715.5 1732.56L754.8 1694.99M715.5 1748.66L754.8 1711.09M715.5 1764.76L754.8 1727.19M715.5 1780.86L754.8 1743.29M715.5 1796.96L754.8 1759.39M715.5 1813.06L754.8 1775.49M715.5 1829.16L754.8 1791.59M715.5 1845.26L754.8 1807.69M715.5 1861.36L754.8 1823.79M715.5 1877.46L754.8 1839.89M715.5 1893.56L754.8 1855.99M715.5 1909.66L754.8 1872.09M715.5 1925.76L754.8 1888.19M715.5 1941.86L754.8 1904.29M715.5 1957.96L754.8 1920.39M715.5 1974.06L754.8 1936.49M715.5 1990.16L754.8 1952.59M715.5 2006.26L754.8 1968.69M715.5 2022.36L754.8 1984.79M715.5 2038.46L754.8 2000.89M715.5 2054.56L754.8 2016.99M715.5 2070.66L754.8 2033.09M715.5 2086.76L754.8 2049.19M727.38 2091.5L754.8 2065.29M744.23 2091.5L754.8 2081.39" stroke-width="1.4" fill="none"/>
<line x1="735.15" y1="1622.9" x2="735.15" y2="1594.3" stroke-width="1.85"/>
<line x1="726.9" y1="1594.3" x2="743.4" y2="1594.3" stroke-width="1.85"/>
<rect x="754.34" y="1840.3" width="40.83" height="251.2" fill="#000" stroke="none"/>
<line x1="774.75" y1="1840.3" x2="774.75" y2="1813.4" stroke-width="1.85"/>
<line x1="766.5" y1="1813.4" x2="783" y2="1813.4" stroke-width="1.85"/>
<rect x="794.7" y="1710.1" width="38.5" height="381.4" fill="#fff" stroke-width="1.85"/>
<line x1="813.95" y1="1710.1" x2="813.95" y2="1681.7" stroke-width="1.85"/>
<line x1="805.7" y1="1681.7" x2="822.2" y2="1681.7" stroke-width="1.85"/>
<line x1="182.3" y1="1521.78" x2="182.3" y2="2092.43" stroke-width="1.85"/>
<line x1="174.8" y1="2091.5" x2="972" y2="2091.5" stroke-width="1.85"/>
<line x1="174.8" y1="2091.5" x2="182.3" y2="2091.5" stroke-width="1.85"/>
<text font-family='"Liberation Serif", "DejaVu Serif", serif' font-size="37" text-anchor="end" style="stroke:#000;stroke-width:0.2px" transform="translate(155.6 2103) scale(0.95 1)">0</text>
<line x1="174.8" y1="2009.5" x2="182.3" y2="2009.5" stroke-width="1.85"/>
<text font-family='"Liberation Serif", "DejaVu Serif", serif' font-size="37" text-anchor="end" style="stroke:#000;stroke-width:0.2px" transform="translate(155.6 2021) scale(0.95 1)">2000</text>
<line x1="174.8" y1="1928.9" x2="182.3" y2="1928.9" stroke-width="1.85"/>
<text font-family='"Liberation Serif", "DejaVu Serif", serif' font-size="37" text-anchor="end" style="stroke:#000;stroke-width:0.2px" transform="translate(155.6 1940.4) scale(0.95 1)">4000</text>
<line x1="174.8" y1="1847.5" x2="182.3" y2="1847.5" stroke-width="1.85"/>
<text font-family='"Liberation Serif", "DejaVu Serif", serif' font-size="37" text-anchor="end" style="stroke:#000;stroke-width:0.2px" transform="translate(155.6 1859) scale(0.95 1)">6000</text>
<line x1="174.8" y1="1766.6" x2="182.3" y2="1766.6" stroke-width="1.85"/>
<text font-family='"Liberation Serif", "DejaVu Serif", serif' font-size="37" text-anchor="end" style="stroke:#000;stroke-width:0.2px" transform="translate(155.6 1778.1) scale(0.95 1)">8000</text>
<line x1="174.8" y1="1685" x2="182.3" y2="1685" stroke-width="1.85"/>
<text font-family='"Liberation Serif", "DejaVu Serif", serif' font-size="37" text-anchor="end" style="stroke:#000;stroke-width:0.2px" transform="translate(155.6 1696.5) scale(0.95 1)">10000</text>
<line x1="174.8" y1="1603.2" x2="182.3" y2="1603.2" stroke-width="1.85"/>
<text font-family='"Liberation Serif", "DejaVu Serif", serif' font-size="37" text-anchor="end" style="stroke:#000;stroke-width:0.2px" transform="translate(155.6 1614.7) scale(0.95 1)">12000</text>
<line x1="174.8" y1="1522.7" x2="182.3" y2="1522.7" stroke-width="1.85"/>
<text font-family='"Liberation Serif", "DejaVu Serif", serif' font-size="37" text-anchor="end" style="stroke:#000;stroke-width:0.2px" transform="translate(155.6 1534.2) scale(0.95 1)">14000</text>
<line x1="379.8" y1="2091.5" x2="379.8" y2="2100.5" stroke-width="1.85"/>
<text font-family='"Liberation Serif", "DejaVu Serif", serif' font-size="29.5" font-weight="bold" text-anchor="middle" textLength="113.1" lengthAdjust="spacingAndGlyphs" x="379.95" y="2142.6">Baseline</text>
<line x1="576.8" y1="2091.5" x2="576.8" y2="2100.5" stroke-width="1.85"/>
<text font-family='"Liberation Serif", "DejaVu Serif", serif' font-size="29.5" font-weight="bold" text-anchor="middle" textLength="166.8" lengthAdjust="spacingAndGlyphs" x="576.7" y="2142.6">CAO 30 min</text>
<line x1="774.3" y1="2091.5" x2="774.3" y2="2100.5" stroke-width="1.85"/>
<text font-family='"Liberation Serif", "DejaVu Serif", serif' font-size="29.5" font-weight="bold" text-anchor="middle" textLength="173" lengthAdjust="spacingAndGlyphs" x="773.9" y="2142.6">CAR 180min</text>
<text font-family='"Liberation Serif", "DejaVu Serif", serif' font-size="48.5" font-weight="bold" textLength="434.6" lengthAdjust="spacing" transform="translate(38.2 2022.2) rotate(-90)">max dP/dt (mmHg/s)</text>
<text font-family='"Liberation Serif", "DejaVu Serif", serif' font-size="42" text-anchor="middle" style="stroke:#000;stroke-width:0.5px" x="577.3" y="1798.6">*</text>
<text font-family='"Liberation Sans", "DejaVu Sans", sans-serif' font-size="36.5" text-anchor="middle" style="stroke:#000;stroke-width:0.8px" x="616.8" y="1706.5">#</text>
<text font-family='"Liberation Serif", "DejaVu Serif", serif' font-size="42" text-anchor="middle" style="stroke:#000;stroke-width:0.5px" x="774.4" y="1804.9">*</text>
<text font-family='"Liberation Sans", "DejaVu Sans", sans-serif' font-size="36.5" text-anchor="middle" style="stroke:#000;stroke-width:0.8px" x="813.9" y="1672.3">#</text>
</g>
<g id="panel-F">
<text font-family='"Liberation Sans", "DejaVu Sans", sans-serif' font-size="39" font-weight="bold" x="1166.8" y="1513">F</text>
<rect x="1456.8" y="1730.6" width="38.7" height="361.3" fill="#fff" stroke-width="1.85"/>
<path d="M1456.8 1742.89L1469.65 1730.6M1456.8 1759.09L1486.6 1730.6M1456.8 1775.29L1495.5 1738.29M1456.8 1791.49L1495.5 1754.49M1456.8 1807.69L1495.5 1770.69M1456.8 1823.89L1495.5 1786.89M1456.8 1840.09L1495.5 1803.09M1456.8 1856.29L1495.5 1819.29M1456.8 1872.49L1495.5 1835.49M1456.8 1888.69L1495.5 1851.69M1456.8 1904.89L1495.5 1867.89M1456.8 1921.09L1495.5 1884.09M1456.8 1937.29L1495.5 1900.29M1456.8 1953.49L1495.5 1916.49M1456.8 1969.69L1495.5 1932.69M1456.8 1985.89L1495.5 1948.89M1456.8 2002.09L1495.5 1965.09M1456.8 2018.29L1495.5 1981.29M1456.8 2034.49L1495.5 1997.49M1456.8 2050.69L1495.5 2013.69M1456.8 2066.89L1495.5 2029.89M1456.8 2083.09L1495.5 2046.09M1464.53 2091.9L1495.5 2062.29M1481.47 2091.9L1495.5 2078.49" stroke-width="1.4" fill="none"/>
<line x1="1476.15" y1="1730.6" x2="1476.15" y2="1710.3" stroke-width="1.85"/>
<line x1="1467.9" y1="1710.3" x2="1484.4" y2="1710.3" stroke-width="1.85"/>
<rect x="1495.04" y="1745.3" width="41.42" height="346.6" fill="#000" stroke="none"/>
<line x1="1515.75" y1="1745.3" x2="1515.75" y2="1737.1" stroke-width="1.85"/>
<line x1="1507.5" y1="1737.1" x2="1524" y2="1737.1" stroke-width="1.85"/>
<rect x="1536" y="1747.4" width="38.5" height="344.5" fill="#fff" stroke-width="1.85"/>
<line x1="1555.25" y1="1747.4" x2="1555.25" y2="1728.4" stroke-width="1.85"/>
<line x1="1547" y1="1728.4" x2="1563.5" y2="1728.4" stroke-width="1.85"/>
<rect x="1654.3" y="1733.6" width="38.4" height="358.3" fill="#fff" stroke-width="1.85"/>
<path d="M1654.3 1748.48L1669.86 1733.6M1654.3 1764.68L1686.81 1733.6M1654.3 1780.88L1692.7 1744.17M1654.3 1797.08L1692.7 1760.37M1654.3 1813.28L1692.7 1776.57M1654.3 1829.48L1692.7 1792.77M1654.3 1845.68L1692.7 1808.97M1654.3 1861.88L1692.7 1825.17M1654.3 1878.08L1692.7 1841.37M1654.3 1894.28L1692.7 1857.57M1654.3 1910.48L1692.7 1873.77M1654.3 1926.68L1692.7 1889.97M1654.3 1942.88L1692.7 1906.17M1654.3 1959.08L1692.7 1922.37M1654.3 1975.28L1692.7 1938.57M1654.3 1991.48L1692.7 1954.77M1654.3 2007.68L1692.7 1970.97M1654.3 2023.88L1692.7 1987.17M1654.3 2040.08L1692.7 2003.37M1654.3 2056.28L1692.7 2019.57M1654.3 2072.48L1692.7 2035.77M1654.3 2088.68L1692.7 2051.97M1667.88 2091.9L1692.7 2068.17M1684.82 2091.9L1692.7 2084.37" stroke-width="1.4" fill="none"/>
<line x1="1673.5" y1="1733.6" x2="1673.5" y2="1723.7" stroke-width="1.85"/>
<line x1="1665.25" y1="1723.7" x2="1681.75" y2="1723.7" stroke-width="1.85"/>
<rect x="1692.24" y="1778.6" width="41.72" height="313.3" fill="#000" stroke="none"/>
<line x1="1713.1" y1="1778.6" x2="1713.1" y2="1754" stroke-width="1.85"/>
<line x1="1704.85" y1="1754" x2="1721.35" y2="1754" stroke-width="1.85"/>
<rect x="1733.5" y="1815.8" width="38.4" height="276.1" fill="#fff" stroke-width="1.85"/>
<line x1="1752.7" y1="1815.8" x2="1752.7" y2="1805.9" stroke-width="1.85"/>
<line x1="1744.45" y1="1805.9" x2="1760.95" y2="1805.9" stroke-width="1.85"/>
<rect x="1851.8" y="1731.9" width="38.4" height="360" fill="#fff" stroke-width="1.85"/>
<path d="M1851.8 1737.87L1858.04 1731.9M1851.8 1754.07L1874.99 1731.9M1851.8 1770.27L1890.2 1733.56M1851.8 1786.47L1890.2 1749.76M1851.8 1802.67L1890.2 1765.96M1851.8 1818.87L1890.2 1782.16M1851.8 1835.07L1890.2 1798.36M1851.8 1851.27L1890.2 1814.56M1851.8 1867.47L1890.2 1830.76M1851.8 1883.67L1890.2 1846.96M1851.8 1899.87L1890.2 1863.16M1851.8 1916.07L1890.2 1879.36M1851.8 1932.27L1890.2 1895.56M1851.8 1948.47L1890.2 1911.76M1851.8 1964.67L1890.2 1927.96M1851.8 1980.87L1890.2 1944.16M1851.8 1997.07L1890.2 1960.36M1851.8 2013.27L1890.2 1976.56M1851.8 2029.47L1890.2 1992.76M1851.8 2045.67L1890.2 2008.96M1851.8 2061.87L1890.2 2025.16M1851.8 2078.07L1890.2 2041.36M1854.28 2091.9L1890.2 2057.56M1871.22 2091.9L1890.2 2073.76M1888.17 2091.9L1890.2 2089.96" stroke-width="1.4" fill="none"/>
<line x1="1871" y1="1731.9" x2="1871" y2="1725.4" stroke-width="1.85"/>
<line x1="1862.75" y1="1725.4" x2="1879.25" y2="1725.4" stroke-width="1.85"/>
<rect x="1889.74" y="1825.4" width="41.72" height="266.5" fill="#000" stroke="none"/>
<line x1="1910.6" y1="1825.4" x2="1910.6" y2="1801" stroke-width="1.85"/>
<line x1="1902.35" y1="1801" x2="1918.85" y2="1801" stroke-width="1.85"/>
<rect x="1931" y="1812.6" width="38.4" height="279.3" fill="#fff" stroke-width="1.85"/>
<line x1="1950.2" y1="1812.6" x2="1950.2" y2="1784.2" stroke-width="1.85"/>
<line x1="1941.95" y1="1784.2" x2="1958.45" y2="1784.2" stroke-width="1.85"/>
<line x1="1318.1" y1="1523.08" x2="1318.1" y2="2092.83" stroke-width="1.85"/>
<line x1="1309" y1="2091.9" x2="2106.5" y2="2091.9" stroke-width="1.85"/>
<line x1="1309" y1="2091.9" x2="1318.1" y2="2091.9" stroke-width="1.85"/>
<text font-family='"Liberation Serif", "DejaVu Serif", serif' font-size="37" text-anchor="end" style="stroke:#000;stroke-width:0.2px" transform="translate(1291 2103.2) scale(0.95 1)">0</text>
<line x1="1309" y1="1964.4" x2="1318.1" y2="1964.4" stroke-width="1.85"/>
<text font-family='"Liberation Serif", "DejaVu Serif", serif' font-size="37" text-anchor="end" style="stroke:#000;stroke-width:0.2px" transform="translate(1291 1975.7) scale(0.95 1)">2000</text>
<line x1="1309" y1="1839" x2="1318.1" y2="1839" stroke-width="1.85"/>
<text font-family='"Liberation Serif", "DejaVu Serif", serif' font-size="37" text-anchor="end" style="stroke:#000;stroke-width:0.2px" transform="translate(1291 1850.3) scale(0.95 1)">4000</text>
<line x1="1309" y1="1712.3" x2="1318.1" y2="1712.3" stroke-width="1.85"/>
<text font-family='"Liberation Serif", "DejaVu Serif", serif' font-size="37" text-anchor="end" style="stroke:#000;stroke-width:0.2px" transform="translate(1291 1723.6) scale(0.95 1)">6000</text>
<line x1="1309" y1="1586.6" x2="1318.1" y2="1586.6" stroke-width="1.85"/>
<text font-family='"Liberation Serif", "DejaVu Serif", serif' font-size="37" text-anchor="end" style="stroke:#000;stroke-width:0.2px" transform="translate(1291 1597.9) scale(0.95 1)">8000</text>
<line x1="1515.1" y1="2091.9" x2="1515.1" y2="2100.9" stroke-width="1.85"/>
<text font-family='"Liberation Serif", "DejaVu Serif", serif' font-size="29.5" font-weight="bold" text-anchor="middle" textLength="111.9" lengthAdjust="spacingAndGlyphs" x="1515.85" y="2143">Baseline</text>
<line x1="1712.5" y1="2091.9" x2="1712.5" y2="2100.9" stroke-width="1.85"/>
<text font-family='"Liberation Serif", "DejaVu Serif", serif' font-size="29.5" font-weight="bold" text-anchor="middle" textLength="166.2" lengthAdjust="spacingAndGlyphs" x="1712.2" y="2143">CAO 30 min</text>
<line x1="1910" y1="2091.9" x2="1910" y2="2100.9" stroke-width="1.85"/>
<text font-family='"Liberation Serif", "DejaVu Serif", serif' font-size="29.5" font-weight="bold" text-anchor="middle" textLength="172" lengthAdjust="spacingAndGlyphs" x="1908.9" y="2143">CAR 180min</text>
<text font-family='"Liberation Serif", "DejaVu Serif", serif' font-size="48.5" font-weight="bold" textLength="427.2" lengthAdjust="spacing" transform="translate(1200.4 2020.1) rotate(-90)">min dP/dt (mmHg/s)</text>
<text font-family='"Liberation Serif", "DejaVu Serif", serif' font-size="42" text-anchor="middle" style="stroke:#000;stroke-width:0.5px" x="1910.2" y="1790.2">*</text>
</g>
<g id="legend">
<rect x="902.4" y="88.2" width="69.9" height="15.9" fill="#fff" stroke-width="1.85"/>
<path d="M902.4 89.1L903.15 88.2M914.5 104.1L927.75 88.2M939.1 104.1L952.35 88.2M963.7 104.1L972.3 93.78" stroke-width="1.4" fill="none"/>
<text font-family='"Liberation Serif", "DejaVu Serif", serif' font-size="30" style="stroke:#000;stroke-width:0.2px" x="990.5" y="105.3">Sham</text>
<rect x="901.48" y="125.3" width="71.75" height="18.2" fill="#000" stroke="none"/>
<text font-family='"Liberation Serif", "DejaVu Serif", serif' font-size="30" textLength="96" lengthAdjust="spacing" style="stroke:#000;stroke-width:0.2px" x="989.5" y="143.5">Vehicle</text>
<rect x="902.4" y="165.3" width="69.9" height="13.9" fill="#fff" stroke-width="1.85"/>
<text font-family='"Liberation Serif", "DejaVu Serif", serif' font-size="30" style="stroke:#000;stroke-width:0.2px" x="989.5" y="182.1">LK</text>
</g>
</svg></body></html>
